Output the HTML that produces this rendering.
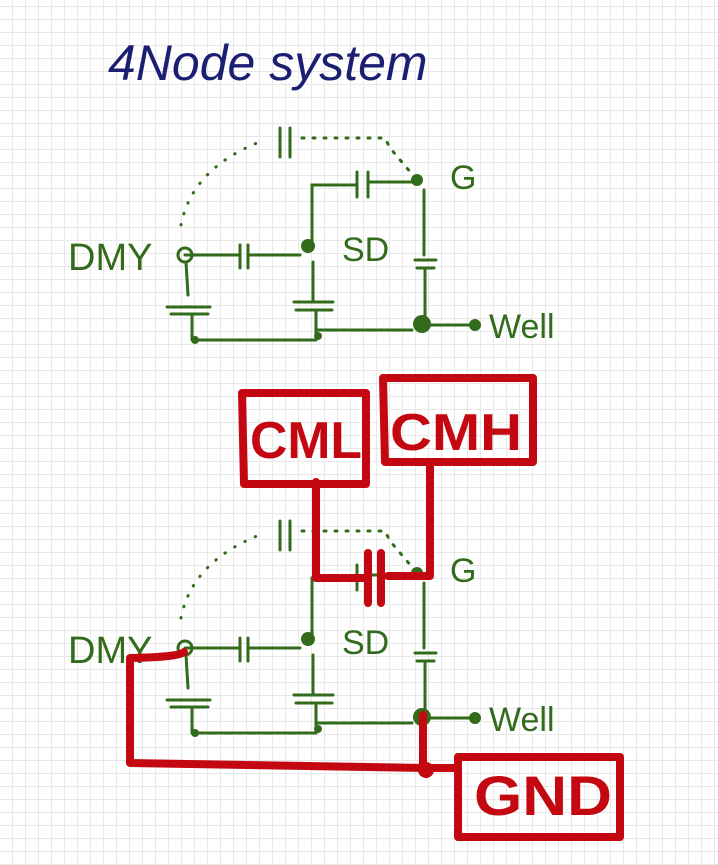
<!DOCTYPE html>
<html><head><meta charset="utf-8"><style>
html,body{margin:0;padding:0;background:#fff}
svg{display:block}
text{font-family:"Liberation Sans",sans-serif}
</style></head><body>
<svg width="718" height="865" viewBox="0 0 718 865" xmlns="http://www.w3.org/2000/svg">
<defs>
<pattern id="g" x="12" y="6" width="13" height="13" patternUnits="userSpaceOnUse">
<path d="M0.5 0V13M0 0.5H13" stroke="#e8e8e8" stroke-width="1" fill="none"/>
</pattern>
<g id="c" stroke="#336b1c" stroke-width="3" fill="none" stroke-linecap="round">
<path d="M181 225 Q192 168 262 141" stroke-dasharray="0.5 11"/>
<path d="M280 128V157M290 128V157"/>
<path d="M302 138 H385 L390 148 L412 174" stroke-dasharray="2 9"/>
<path d="M185 255H240M240 245V268M248 245V268M248 255H300"/>
<path d="M312 247V185H356M357 172V197M368 172V197M368 182L418 182"/>
<path d="M186 262L188 295M167 307H210M171 314H208M192 314V340M193 340H316"/>
<path d="M313 262V300M294 302H333M296 310H332M316 310V336M318 330H412"/>
<path d="M424 190V255M415 260H436M417 268H434M425 270V325M425 325H475"/>
<text x="68" y="270" font-size="38" fill="#336b1c" stroke="none">DMY</text>
<text x="342" y="261" font-size="34" fill="#336b1c" stroke="none">SD</text>
<text x="450" y="189" font-size="34" fill="#336b1c" stroke="none">G</text>
<text x="489" y="338" font-size="34" fill="#336b1c" stroke="none">Well</text>
</g>
<g id="d" fill="#336b1c">
<circle cx="185" cy="255" r="7" fill="none" stroke="#336b1c" stroke-width="3"/>
<circle cx="308" cy="246" r="7"/>
<circle cx="417" cy="180" r="6"/>
<circle cx="195" cy="340" r="4"/>
<circle cx="318" cy="336" r="4"/>
<circle cx="422" cy="324" r="9"/>
<circle cx="475" cy="325" r="6"/>
</g>
</defs>
<rect width="718" height="865" fill="url(#g)"/>
<text x="108" y="80" font-size="50" font-style="italic" fill="#1a1f72">4Node system</text>
<use href="#c"/><use href="#d"/>
<use href="#c" transform="translate(0,393)"/><use href="#d" transform="translate(0,393)"/>
<g stroke="#c40812" stroke-width="8" fill="none" stroke-linecap="round" stroke-linejoin="round">
<path d="M242 393H366V484H244Z"/>
<path d="M383 378H533V462H385Z"/>
<path d="M316 482V578H365M368 553V603M381 553V603M388 576H430V462"/>
<path d="M184 652Q180 657 130 658V763L426 768H456"/>
<path d="M423 715V768"/>
<path d="M458 757H620V837H458Z"/>
</g>
<circle cx="426" cy="770" r="8" fill="#c40812"/>
<g font-weight="bold" fill="#c40812" font-size="52">
<text x="250" y="458" textLength="112" lengthAdjust="spacingAndGlyphs">CML</text>
<text x="390" y="450" textLength="132" lengthAdjust="spacingAndGlyphs">CMH</text>
<text x="474" y="815" font-size="56" textLength="138" lengthAdjust="spacingAndGlyphs">GND</text>
</g>
</svg>
</body></html>
